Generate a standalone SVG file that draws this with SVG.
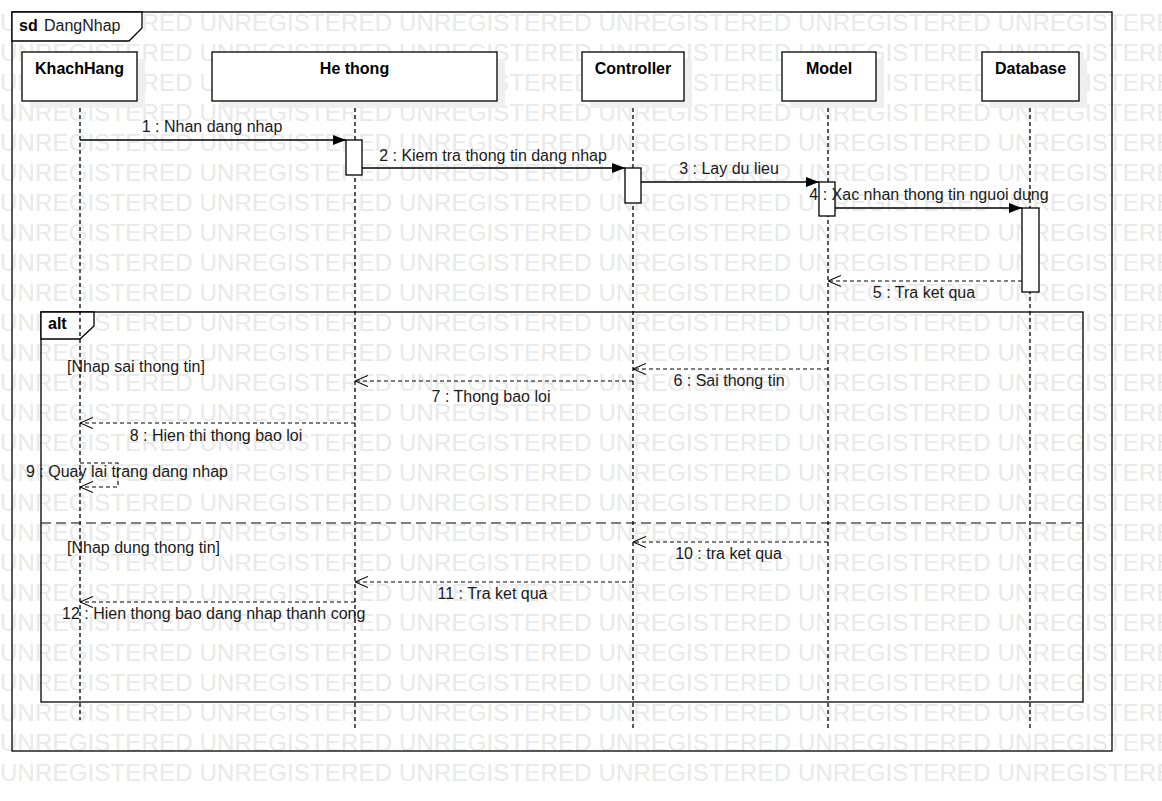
<svg xmlns="http://www.w3.org/2000/svg" width="1162" height="801" viewBox="0 0 1162 801">
<style>
.wm{font-family:"Liberation Sans",Arial,sans-serif;font-size:24px;fill:#e9e9e9}
.t{font-family:"Liberation Sans",Arial,sans-serif;font-size:16px;fill:#1a1a1a}
.b{font-family:"Liberation Sans",Arial,sans-serif;font-size:16px;font-weight:bold;fill:#000}
.frame{fill:none;stroke:#000;stroke-width:1.3}
.tab{fill:#fff;stroke:#000;stroke-width:1.3}
.box{fill:#fff;stroke:#000;stroke-width:1.3}
.shadow{fill:#efefef}
.life{stroke:#000;stroke-width:1.3;stroke-dasharray:4 3;fill:none}
.msg{stroke:#000;stroke-width:1.3;fill:none}
.ret{stroke:#000;stroke-width:1.1;stroke-dasharray:4 3;fill:none}
.act{fill:#fff;stroke:#000;stroke-width:1.3}
.sep{stroke:#000;stroke-width:1.1;stroke-dasharray:10 5}
</style>
<defs>
<marker id="fill" viewBox="0 0 13 10" refX="13" refY="5" markerWidth="13" markerHeight="10" markerUnits="userSpaceOnUse" orient="auto">
<path d="M0,0 L13,5 L0,10 Z" fill="#000"/>
</marker>
<marker id="open" viewBox="0 0 13 12" refX="13" refY="6" markerWidth="13" markerHeight="12" markerUnits="userSpaceOnUse" orient="auto">
<path d="M0,0.5 L13,6 L0,11.5" fill="none" stroke="#000" stroke-width="1.1"/>
</marker>
</defs>
<rect width="1162" height="801" fill="#fff"/>
<g id="watermark">
<text class="wm" x="0" y="31" textLength="1190" lengthAdjust="spacing">UNREGISTERED UNREGISTERED UNREGISTERED UNREGISTERED UNREGISTERED UNREGISTERED</text>
<text class="wm" x="0" y="61" textLength="1190" lengthAdjust="spacing">UNREGISTERED UNREGISTERED UNREGISTERED UNREGISTERED UNREGISTERED UNREGISTERED</text>
<text class="wm" x="0" y="91" textLength="1190" lengthAdjust="spacing">UNREGISTERED UNREGISTERED UNREGISTERED UNREGISTERED UNREGISTERED UNREGISTERED</text>
<text class="wm" x="0" y="121" textLength="1190" lengthAdjust="spacing">UNREGISTERED UNREGISTERED UNREGISTERED UNREGISTERED UNREGISTERED UNREGISTERED</text>
<text class="wm" x="0" y="151" textLength="1190" lengthAdjust="spacing">UNREGISTERED UNREGISTERED UNREGISTERED UNREGISTERED UNREGISTERED UNREGISTERED</text>
<text class="wm" x="0" y="181" textLength="1190" lengthAdjust="spacing">UNREGISTERED UNREGISTERED UNREGISTERED UNREGISTERED UNREGISTERED UNREGISTERED</text>
<text class="wm" x="0" y="211" textLength="1190" lengthAdjust="spacing">UNREGISTERED UNREGISTERED UNREGISTERED UNREGISTERED UNREGISTERED UNREGISTERED</text>
<text class="wm" x="0" y="241" textLength="1190" lengthAdjust="spacing">UNREGISTERED UNREGISTERED UNREGISTERED UNREGISTERED UNREGISTERED UNREGISTERED</text>
<text class="wm" x="0" y="271" textLength="1190" lengthAdjust="spacing">UNREGISTERED UNREGISTERED UNREGISTERED UNREGISTERED UNREGISTERED UNREGISTERED</text>
<text class="wm" x="0" y="301" textLength="1190" lengthAdjust="spacing">UNREGISTERED UNREGISTERED UNREGISTERED UNREGISTERED UNREGISTERED UNREGISTERED</text>
<text class="wm" x="0" y="331" textLength="1190" lengthAdjust="spacing">UNREGISTERED UNREGISTERED UNREGISTERED UNREGISTERED UNREGISTERED UNREGISTERED</text>
<text class="wm" x="0" y="361" textLength="1190" lengthAdjust="spacing">UNREGISTERED UNREGISTERED UNREGISTERED UNREGISTERED UNREGISTERED UNREGISTERED</text>
<text class="wm" x="0" y="391" textLength="1190" lengthAdjust="spacing">UNREGISTERED UNREGISTERED UNREGISTERED UNREGISTERED UNREGISTERED UNREGISTERED</text>
<text class="wm" x="0" y="421" textLength="1190" lengthAdjust="spacing">UNREGISTERED UNREGISTERED UNREGISTERED UNREGISTERED UNREGISTERED UNREGISTERED</text>
<text class="wm" x="0" y="451" textLength="1190" lengthAdjust="spacing">UNREGISTERED UNREGISTERED UNREGISTERED UNREGISTERED UNREGISTERED UNREGISTERED</text>
<text class="wm" x="0" y="481" textLength="1190" lengthAdjust="spacing">UNREGISTERED UNREGISTERED UNREGISTERED UNREGISTERED UNREGISTERED UNREGISTERED</text>
<text class="wm" x="0" y="511" textLength="1190" lengthAdjust="spacing">UNREGISTERED UNREGISTERED UNREGISTERED UNREGISTERED UNREGISTERED UNREGISTERED</text>
<text class="wm" x="0" y="541" textLength="1190" lengthAdjust="spacing">UNREGISTERED UNREGISTERED UNREGISTERED UNREGISTERED UNREGISTERED UNREGISTERED</text>
<text class="wm" x="0" y="571" textLength="1190" lengthAdjust="spacing">UNREGISTERED UNREGISTERED UNREGISTERED UNREGISTERED UNREGISTERED UNREGISTERED</text>
<text class="wm" x="0" y="601" textLength="1190" lengthAdjust="spacing">UNREGISTERED UNREGISTERED UNREGISTERED UNREGISTERED UNREGISTERED UNREGISTERED</text>
<text class="wm" x="0" y="631" textLength="1190" lengthAdjust="spacing">UNREGISTERED UNREGISTERED UNREGISTERED UNREGISTERED UNREGISTERED UNREGISTERED</text>
<text class="wm" x="0" y="661" textLength="1190" lengthAdjust="spacing">UNREGISTERED UNREGISTERED UNREGISTERED UNREGISTERED UNREGISTERED UNREGISTERED</text>
<text class="wm" x="0" y="691" textLength="1190" lengthAdjust="spacing">UNREGISTERED UNREGISTERED UNREGISTERED UNREGISTERED UNREGISTERED UNREGISTERED</text>
<text class="wm" x="0" y="721" textLength="1190" lengthAdjust="spacing">UNREGISTERED UNREGISTERED UNREGISTERED UNREGISTERED UNREGISTERED UNREGISTERED</text>
<text class="wm" x="0" y="751" textLength="1190" lengthAdjust="spacing">UNREGISTERED UNREGISTERED UNREGISTERED UNREGISTERED UNREGISTERED UNREGISTERED</text>
<text class="wm" x="0" y="781" textLength="1190" lengthAdjust="spacing">UNREGISTERED UNREGISTERED UNREGISTERED UNREGISTERED UNREGISTERED UNREGISTERED</text>
</g>
<g id="frame-sd">
<rect class="frame" x="12" y="12" width="1100" height="739"/>
<polygon class="tab" points="12,12 142,12 142,28 129,41 12,41"/>
<text class="b" x="19" y="31" font-size="15">sd</text>
<text class="t" x="44" y="31">DangNhap</text>
</g>
<g id="frame-alt">
<rect class="frame" x="41" y="312" width="1042" height="390"/>
<polygon class="tab" points="41,312 94,312 94,326 80,339 41,339"/>
<text class="b" x="48" y="329">alt</text>
<line class="sep" x1="41" y1="523" x2="1083" y2="523"/>
<text class="t" x="67" y="372">[Nhap sai thong tin]</text>
<text class="t" x="67" y="553">[Nhap dung thong tin]</text>
</g>
<g id="lifelines">
<line class="life" x1="80" y1="101" x2="80" y2="720"/>
<line class="life" x1="355" y1="101" x2="355" y2="728"/>
<line class="life" x1="633" y1="101" x2="633" y2="728"/>
<line class="life" x1="828" y1="101" x2="828" y2="728"/>
<line class="life" x1="1030" y1="101" x2="1030" y2="728"/>
</g>
<g id="KhachHang">
<rect class="shadow" x="30" y="59" width="115" height="49"/>
<rect class="box" x="22" y="52" width="115" height="49"/>
<text class="b" x="79.5" y="74" text-anchor="middle">KhachHang</text>
</g>
<g id="HeThong">
<rect class="shadow" x="220" y="59" width="285" height="49"/>
<rect class="box" x="212" y="52" width="285" height="49"/>
<text class="b" x="354.5" y="74" text-anchor="middle">He thong</text>
</g>
<g id="Controller">
<rect class="shadow" x="590" y="59" width="102" height="49"/>
<rect class="box" x="582" y="52" width="102" height="49"/>
<text class="b" x="633" y="74" text-anchor="middle">Controller</text>
</g>
<g id="Model">
<rect class="shadow" x="790" y="59" width="94" height="49"/>
<rect class="box" x="782" y="52" width="94" height="49"/>
<text class="b" x="829" y="74" text-anchor="middle">Model</text>
</g>
<g id="Database">
<rect class="shadow" x="990" y="59" width="97" height="49"/>
<rect class="box" x="982" y="52" width="97" height="49"/>
<text class="b" x="1030.5" y="74" text-anchor="middle">Database</text>
</g>
<g id="activations">
<rect class="act" x="346" y="140" width="16" height="35"/>
<rect class="act" x="625" y="168" width="16" height="35"/>
<rect class="act" x="819" y="182" width="16" height="34"/>
<rect class="act" x="1022" y="208" width="17" height="84"/>
</g>
<g id="connectors">
<line class="msg" x1="80" y1="140" x2="346" y2="140" marker-end="url(#fill)"/>
<line class="msg" x1="362" y1="168" x2="625" y2="168" marker-end="url(#fill)"/>
<line class="msg" x1="641" y1="182" x2="819" y2="182" marker-end="url(#fill)"/>
<line class="msg" x1="835" y1="208" x2="1022" y2="208" marker-end="url(#fill)"/>
<line class="ret" x1="1022" y1="281" x2="828" y2="281" marker-end="url(#open)"/>
<line class="ret" x1="828" y1="369" x2="633" y2="369" marker-end="url(#open)"/>
<line class="ret" x1="633" y1="381" x2="355" y2="381" marker-end="url(#open)"/>
<line class="ret" x1="355" y1="423" x2="80" y2="423" marker-end="url(#open)"/>
<polyline class="ret" points="80,463 118,463 118,487 80,487" marker-end="url(#open)"/>
<line class="ret" x1="828" y1="542" x2="633" y2="542" marker-end="url(#open)"/>
<line class="ret" x1="633" y1="582" x2="355" y2="582" marker-end="url(#open)"/>
<line class="ret" x1="355" y1="602" x2="80" y2="602" marker-end="url(#open)"/>
</g>
<g id="labels">
<text class="t" x="212" y="132" text-anchor="middle">1 : Nhan dang nhap</text>
<text class="t" x="493" y="161" text-anchor="middle">2 : Kiem tra thong tin dang nhap</text>
<text class="t" x="729" y="174" text-anchor="middle">3 : Lay du lieu</text>
<text class="t" x="929" y="200" text-anchor="middle">4 : Xac nhan thong tin nguoi dung</text>
<text class="t" x="924" y="298" text-anchor="middle">5 : Tra ket qua</text>
<text class="t" x="729" y="386" text-anchor="middle">6 : Sai thong tin</text>
<text class="t" x="491" y="402" text-anchor="middle">7 : Thong bao loi</text>
<text class="t" x="216" y="441" text-anchor="middle">8 : Hien thi thong bao loi</text>
<text class="t" x="26" y="477">9 : Quay lai trang dang nhap</text>
<text class="t" x="728.5" y="559" text-anchor="middle">10 : tra ket qua</text>
<text class="t" x="492.5" y="599" text-anchor="middle">11 : Tra ket qua</text>
<text class="t" x="62" y="619">12 : Hien thong bao dang nhap thanh cong</text>
</g>
</svg>
